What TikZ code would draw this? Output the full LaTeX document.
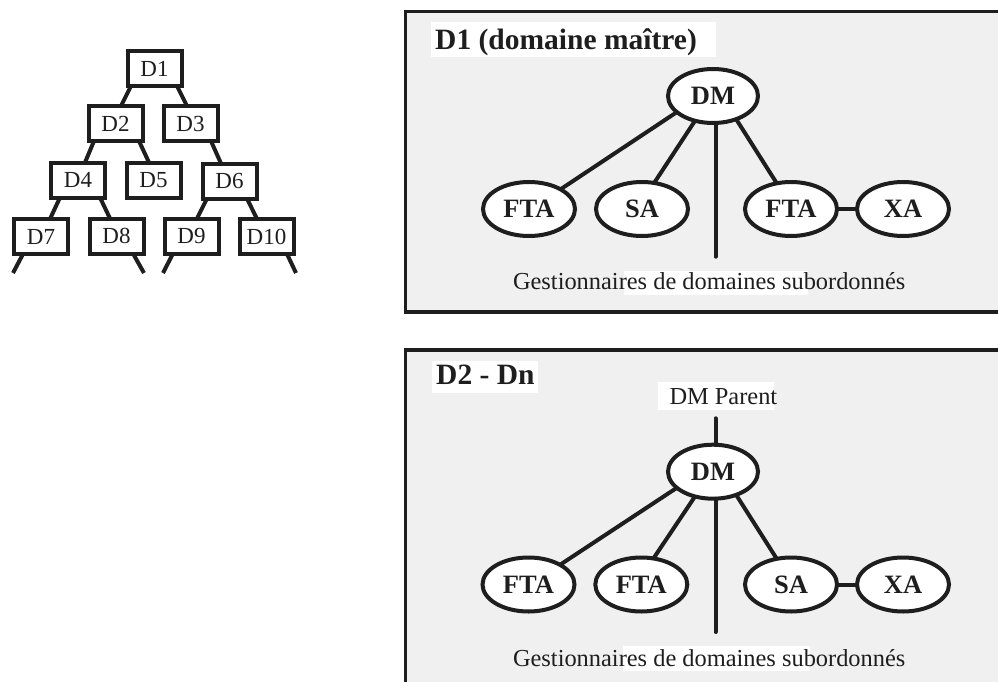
\documentclass[tikz,border=0pt]{standalone}
\usepackage{fontspec}
\setmainfont{Liberation Serif}
\usetikzlibrary{shapes.geometric,calc}
\definecolor{panel}{RGB}{239,240,239}
\definecolor{ink}{RGB}{30,30,30}
\begin{document}
\begin{tikzpicture}[x=1pt,y=-1pt,
  dombox/.style={draw=ink,line width=4pt,fill=white,minimum width=54pt,minimum height=35pt,
    inner sep=0pt,outer sep=0pt,font=\fontsize{23}{26}\selectfont,text=ink},
  link/.style={draw=ink,line width=4pt},
  trunk/.style={link,line cap=round},
  agent/.style={ellipse,draw=ink,line width=4pt,fill=white,minimum width=92pt,minimum height=54pt,
    inner sep=0pt,outer sep=0pt,font=\bfseries\fontsize{26.5}{30}\selectfont,text=ink},
  panelbox/.style={draw=ink,line width=3.5pt,fill=panel},
  title/.style={anchor=base west,inner sep=0pt,font=\bfseries\fontsize{29.5}{34}\selectfont,text=ink},
  caption/.style={anchor=base,inner sep=0pt,font=\fontsize{24.4}{28}\selectfont,text=ink},
  wash/.style={fill=white,draw=none}
]
\clip (0,0) rectangle (998,682);
\fill[white] (0,0) rectangle (998,682);

% ---------- domain tree ----------
\node[dombox] (D1)  at (154.5,68.5) {D1};
\node[dombox] (D2)  at (115.5,123.5) {D2};
\node[dombox] (D3)  at (190.5,123.5) {D3};
\node[dombox] (D4)  at (78,180) {D4};
\node[dombox] (D5)  at (153.5,180) {D5};
\node[dombox] (D6)  at (229.5,181) {D6};
\node[dombox] (D7)  at (41,236.5) {D7};
\node[dombox] (D8)  at (116.5,236) {D8};
\node[dombox] (D9)  at (191.5,236) {D9};
\node[dombox] (D10) at (266.5,236.5) {D10};

\draw[link] ([xshift=3.5pt]D1.south west) -- ([xshift=32.5pt]D2.north west);
\draw[link] ([xshift=-4.5pt]D1.south east) -- ([xshift=23.5pt]D3.north west);
\draw[link] ([xshift=5.5pt]D2.south west) -- ([xshift=34pt]D4.north west);
\draw[link] ([xshift=-3.5pt]D2.south east) -- ([xshift=22.5pt]D5.north west);
\draw[link] ([xshift=-6.5pt]D3.south east) -- ([xshift=18.5pt]D6.north west);
\draw[link] ([xshift=9pt]D4.south west) -- ([xshift=36pt]D7.north west);
\draw[link] ([xshift=-5pt]D4.south east) -- ([xshift=20.5pt]D8.north west);
\draw[link] ([xshift=4.5pt]D6.south west) -- ([xshift=32.5pt]D9.north west);
\draw[link] ([xshift=-9.5pt]D6.south east) -- ([xshift=17.5pt]D10.north west);

\coordinate (L7)  at (13,273);
\coordinate (L8)  at (144,273);
\coordinate (L9)  at (163,273);
\coordinate (L10) at (296,273);
\draw[link] ([xshift=9pt]D7.south west) -- (L7);
\draw[link] ([xshift=-10.5pt]D8.south east) -- (L8);
\draw[link] ([xshift=8.5pt]D9.south west) -- (L9);
\draw[link] ([xshift=-6.5pt]D10.south east) -- (L10);

% ---------- master domain panel ----------
\path[panelbox] (405.5,11.5) rectangle (1010,312);
\fill[wash] (430.5,21.7) rectangle (716,57.3);
\node[title] (tA) at (435,50) {D1 (domaine maître)};

\node[agent,minimum width=90pt] (dmA) at (713,96) {DM};
\node[agent] (ftaA) at (529,209) {FTA};
\node[agent] (saA)  at (642,209) {SA};
\node[agent] (ftbA) at (791,209) {FTA};
\node[agent] (xaA)  at (903,209) {XA};

\draw[link] (dmA.-156.7) -- (ftaA.32.5);
\draw[link] (dmA.-126.6) -- (saA.65.3);
\draw[link] (dmA.-45) -- (ftbA.119.5);
\coordinate (subA) at (715.6,256.7);
\draw[trunk] (subA |- dmA.south) -- (subA);
\draw[link] (ftbA.east) -- (xaA.west);

\fill[wash] (624,271) rectangle (808,295);
\node[caption] (cA) at (709.2,289.5) {Gestionnaires de domaines subordonnés};

% ---------- subordinate domain panel ----------
\path[panelbox] (405.5,350) rectangle (1010,700);
\fill[wash] (431.7,360.7) rectangle (537.7,392.7);
\node[title] (tB) at (436,384) {D2 - Dn};

\fill[wash] (658.3,381.7) rectangle (774,410);
\node[caption,anchor=base west] (pB) at (669.3,404) {DM Parent};

\node[agent,minimum width=90pt] (dmB) at (713,471.7) {DM};
\node[agent] (ftaB) at (528.5,584.5) {FTA};
\node[agent] (ftbB) at (641.3,584.5) {FTA};
\node[agent] (saB)  at (791,584.5) {SA};
\node[agent] (xaB)  at (903,584.5) {XA};

\coordinate (parB) at (715.6,418.3);
\draw[trunk] (parB) -- (parB |- dmB.north);
\draw[link] (dmB.-156.7) -- (ftaB.32.5);
\draw[link] (dmB.-126.6) -- (ftbB.65.3);
\draw[link] (dmB.-45) -- (saB.119.5);
\coordinate (subB) at (715.6,632);
\draw[trunk] (subB |- dmB.south) -- (subB);
\draw[link] (saB.east) -- (xaB.west);

\fill[wash] (623,646.4) rectangle (810,670.7);
\node[caption] (cB) at (709.2,666) {Gestionnaires de domaines subordonnés};
\end{tikzpicture}
\end{document}
